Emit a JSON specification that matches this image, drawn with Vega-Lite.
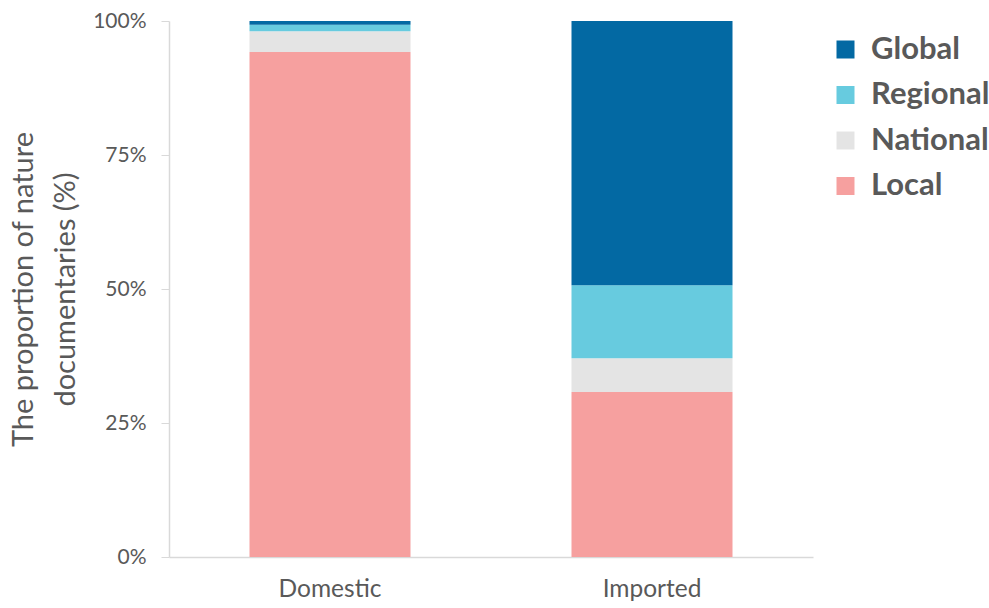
{
  "$schema": "https://vega.github.io/schema/vega-lite/v6.json",
  "autosize": {"type": "none"},
  "width": 644,
  "height": 536,
  "padding": {"left": 169, "top": 21, "right": 176, "bottom": 51},
  "background": "white",
  "data": {
    "values": [
      {"source": "Domestic", "scope": "Local", "rank": 1, "value": 94.2},
      {"source": "Domestic", "scope": "National", "rank": 2, "value": 3.9},
      {"source": "Domestic", "scope": "Regional", "rank": 3, "value": 1.2},
      {"source": "Domestic", "scope": "Global", "rank": 4, "value": 0.7},
      {"source": "Imported", "scope": "Local", "rank": 1, "value": 30.8},
      {"source": "Imported", "scope": "National", "rank": 2, "value": 6.3},
      {"source": "Imported", "scope": "Regional", "rank": 3, "value": 13.6},
      {"source": "Imported", "scope": "Global", "rank": 4, "value": 49.3}
    ]
  },
  "mark": {"type": "bar"},
  "encoding": {
    "x": {
      "field": "source",
      "type": "nominal",
      "sort": ["Domestic", "Imported"],
      "scale": {"paddingInner": 0.5, "paddingOuter": 0.25},
      "axis": {
        "title": null,
        "labelAngle": 0,
        "labelFont": "Lato",
        "labelFontSize": 24.5,
        "labelColor": "#595959",
        "labelPadding": 20,
        "ticks": false,
        "domainColor": "#D9D9D9",
        "domainWidth": 1.5
      }
    },
    "y": {
      "field": "value",
      "type": "quantitative",
      "stack": "zero",
      "scale": {"domain": [0, 100], "nice": false},
      "axis": {
        "values": [0, 25, 50, 75, 100],
        "labelExpr": "datum.value + '%'",
        "grid": false,
        "title": ["The proportion of nature", "documentaries (%)"],
        "titleFont": "Lato",
        "titleFontSize": 29,
        "titleFontWeight": "normal",
        "titleColor": "#595959",
        "titleLineHeight": 42,
        "titlePadding": 12,
        "labelFont": "Lato",
        "labelFontSize": 21,
        "labelColor": "#595959",
        "labelPadding": 15,
        "tickSize": 8,
        "tickColor": "#D9D9D9",
        "domainColor": "#D9D9D9",
        "domainWidth": 1.5
      }
    },
    "color": {
      "field": "scope",
      "type": "nominal",
      "scale": {
        "domain": ["Global", "Regional", "National", "Local"],
        "range": ["#0369A3", "#67CBDF", "#E4E4E4", "#F6A09F"]
      },
      "legend": {
        "title": null,
        "orient": "none",
        "legendX": 661,
        "legendY": 13,
        "symbolType": "square",
        "symbolSize": 324,
        "symbolStrokeWidth": 0,
        "labelFont": "Lato",
        "labelFontSize": 31,
        "labelFontWeight": "bold",
        "labelColor": "#595959",
        "labelOffset": 10,
        "rowPadding": 13.5
      }
    },
    "order": {"field": "rank", "type": "quantitative"}
  },
  "config": {"view": {"stroke": null}}
}
